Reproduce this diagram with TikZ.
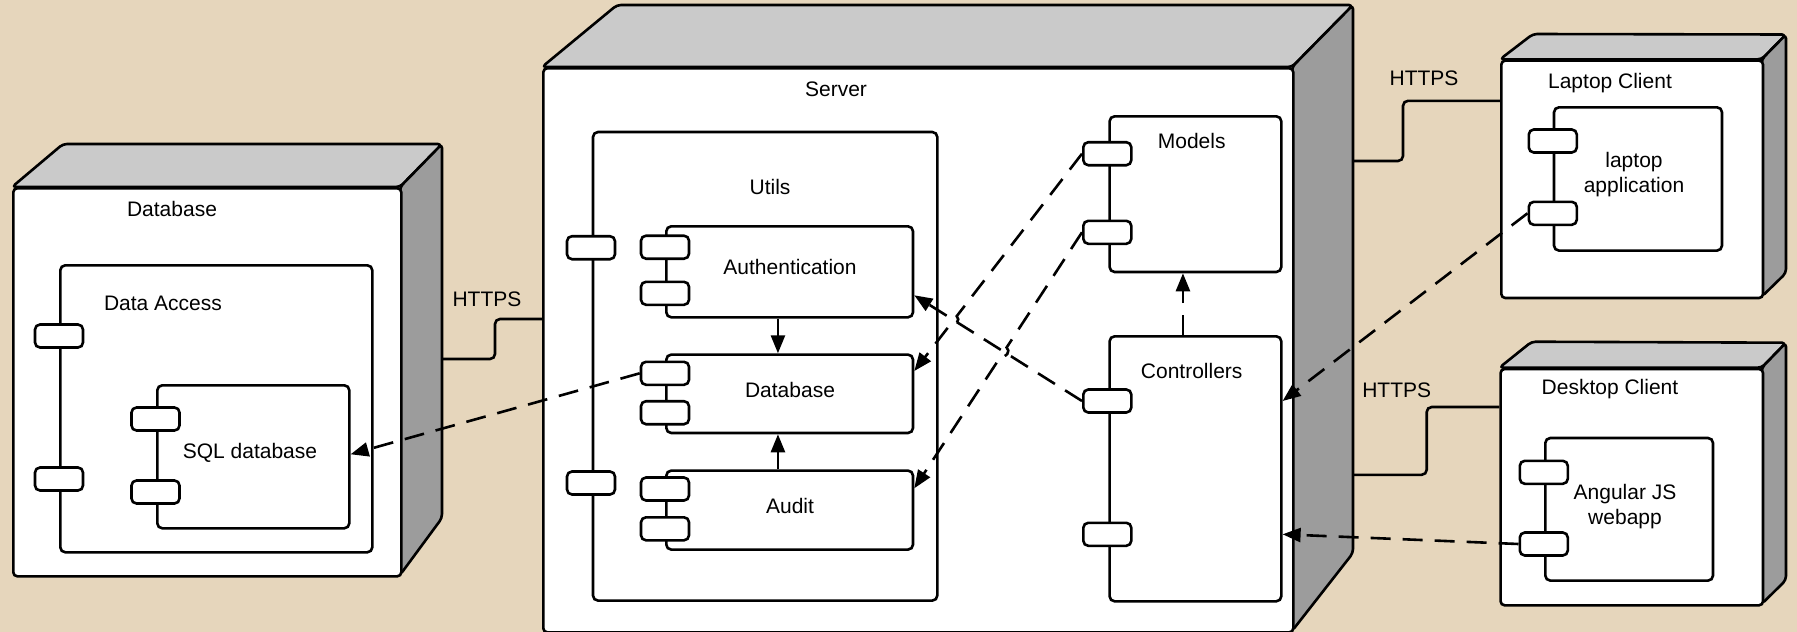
\documentclass[tikz,border=0pt]{standalone}
\usepackage{fontspec}
\setmainfont{Liberation Sans}
\usetikzlibrary{arrows.meta,calc}
\definecolor{bgbeige}{RGB}{230,214,188}
\definecolor{topgray}{RGB}{202,202,202}
\definecolor{sidegray}{RGB}{156,156,156}
\newcommand\lbfont{\fontsize{21}{25}\selectfont}
\tikzset{
  ln/.style={line width=2.6pt, draw=black},
  front/.style={ln, fill=white, rounded corners=4pt, rectangle, inner sep=0pt, anchor=north west},
  topface/.style={ln, fill=topgray, rounded corners=4pt, line join=round},
  sideface/.style={ln, fill=sidegray, rounded corners=4pt, line join=round},
  comp/.style={ln, fill=white, rounded corners=5pt, rectangle, inner sep=0pt, anchor=north west},
  port/.style={ln, fill=white, rounded corners=5pt, rectangle, inner sep=0pt, minimum width=48pt, minimum height=23pt},
  lbl/.style={font=\lbfont, inner sep=0pt, align=center},
  tip/.style={-{Triangle[length=18pt,width=14pt]}},
  dconn/.style={line width=2.6pt, dash pattern=on 20pt off 12pt, tip},
  sconn/.style={line width=2.6pt, tip},
  link/.style={line width=2.6pt, rounded corners=5pt},
}
\begin{document}
\begin{tikzpicture}[x=1pt,y=-1pt]
\useasboundingbox (0,0) rectangle (1797,632);
\fill[bgbeige] (0,0) rectangle (1797,632);

% ---------- Database node ----------
\path[topface] (12,187) -- (63,144) -- (442,144) -- (400,187) -- cycle;
\path[sideface] (400,187) -- (442,144) -- (442,518) -- (400,575) -- cycle;
\node[front, minimum width=388pt, minimum height=388pt] (dbn) at (12,187) {};
\node[lbl] (tdbn) at (172,209) {Database};
\node[comp, minimum width=312pt, minimum height=287pt] (dacc) at (59,264) {};
\node[lbl] (tdacc) at (163,303) {Data Access};
\node[port] (dap1) at (59,336) {};
\node[port] (dap2) at (59,479) {};
\node[comp, minimum width=192pt, minimum height=143pt] (sql) at (156,384) {};
\node[lbl] (tsql) at (250,453) {SQL database};
\node[port] (sqp1) at (155.5,419) {};
\node[port] (sqp2) at (155.5,492) {};

% ---------- Server node ----------
\path[topface] (542,67) -- (617,5) -- (1353,5) -- (1292,67) -- cycle;
\path[sideface] (1292,67) -- (1353,5) -- (1353,553) -- (1292,631) -- cycle;
\node[front, minimum width=750pt, minimum height=564pt] (srv) at (542,67) {};
\node[lbl] (tsrv) at (836,89.5) {Server};

\node[comp, minimum width=344.3pt, minimum height=468.6pt] (utils) at (591.7,130.7) {};
\node[lbl] (tutils) at (770,187.3) {Utils};
\node[port] (up1) at (591,247.7) {};
\node[port] (up2) at (591,483) {};

\node[comp, minimum width=246.7pt, minimum height=91pt] (auth) at (665,225) {};
\node[lbl] (tauth) at (790,267.3) {Authentication};
\node[port] (ap1) at (665,247.2) {};
\node[port] (ap2) at (665,293.3) {};

\node[comp, minimum width=246.7pt, minimum height=78.4pt] (dbi) at (665,353.3) {};
\node[lbl] (tdbi) at (790,390) {Database};
\node[port] (dbp1) at (665,373.3) {};
\node[port] (dbp2) at (665,412.7) {};

\node[comp, minimum width=246.7pt, minimum height=79pt] (audit) at (665,469.3) {};
\node[lbl] (taudit) at (790,505.5) {Audit};
\node[port] (aup1) at (665,489) {};
\node[port] (aup2) at (665,528.8) {};

\node[comp, minimum width=171.7pt, minimum height=155.7pt] (models) at (1108.3,115) {};
\node[lbl] (tmodels) at (1191.7,140.5) {Models};
\node[port] (mp1) at (1107.3,153.7) {};
\node[port] (mp2) at (1107.3,232.3) {};

\node[comp, minimum width=171.7pt, minimum height=265pt] (ctrl) at (1108.3,335) {};
\node[lbl] (tctrl) at (1191.7,370.5) {Controllers};
\node[port] (cp1) at (1107.3,401) {};
\node[port] (cp2) at (1107.3,534.3) {};

% ---------- Laptop client ----------
\path[topface] (1500,59.3) -- (1533,34) -- (1786,34.5) -- (1761.7,59.3) -- cycle;
\path[sideface] (1761.7,59.3) -- (1786,34.5) -- (1786,273) -- (1761.7,296.7) -- cycle;
\node[front, minimum width=261.7pt, minimum height=237.4pt] (lap) at (1500,59.3) {};
\node[lbl] (tlap) at (1610,82.7) {Laptop Client};
\node[comp, minimum width=168pt, minimum height=143.3pt] (lapp) at (1552.7,106) {};
\node[lbl] (tlapp) at (1634,175) {laptop\\application};
\node[port] (lp1) at (1552.8,141) {};
\node[port] (lp2) at (1552.8,213.3) {};

% ---------- Desktop client ----------
\path[topface] (1499.3,367.7) -- (1531.7,341.7) -- (1786,342.7) -- (1761.7,367.7) -- cycle;
\path[sideface] (1761.7,367.7) -- (1786,342.7) -- (1786,580) -- (1761.7,604) -- cycle;
\node[front, minimum width=262.4pt, minimum height=236.3pt] (dsk) at (1499.3,367.7) {};
\node[lbl] (tdsk) at (1610,389.3) {Desktop Client};
\node[comp, minimum width=167.7pt, minimum height=142.6pt] (ang) at (1544,436.7) {};
\node[lbl] (tang) at (1625,506.3) {Angular JS\\webapp};
\node[port] (wp1) at (1543.8,472.3) {};
\node[port] (wp2) at (1543.8,544) {};

% ---------- HTTPS links ----------
\coordinate (dbs) at (442,359);
\coordinate (srvs1) at (1353,161);
\coordinate (srvs2) at (1353,474.8);
\draw[link] (dbs) -- (495,359) -- (495,319) -- (srv.west |- 0,319);
\draw[link] (srvs1) -- (1403,161) -- (1403,100.8) -- (lap.west |- 0,100.8);
\draw[link] (srvs2) -- (1426.7,474.8) -- (1426.7,407) -- (dsk.west |- 0,407);
\node[lbl] (h1) at (487,299) {HTTPS};
\node[lbl] (h2) at (1424,78.6) {HTTPS};
\node[lbl] (h3) at (1396.7,390) {HTTPS};

% ---------- dependencies ----------
\draw[sconn] ([xshift=-11.7pt]auth.south) -- ([xshift=-11.7pt]dbi.north);
\draw[sconn] ([xshift=-11.7pt]audit.north) -- ([xshift=-11.7pt]dbi.south);
\draw[dconn] ([xshift=-12.5pt]ctrl.north) -- ([xshift=-12.5pt]models.south);
\draw[dconn] (dbp1.west) -- ([yshift=2.5pt]sql.east);

\coordinate (m1e) at ([yshift=-17.7pt]dbi.north east);
\coordinate (m2e) at ([yshift=-19pt]audit.north east);
\coordinate (c1e) at ([yshift=23.3pt]auth.south east);
\coordinate (X1) at (intersection of mp1.west--m1e and cp1.west--c1e);
\coordinate (X2) at (intersection of mp2.west--m2e and cp1.west--c1e);
\draw[dconn] (cp1.west) -- (c1e);
\draw[dconn] (mp1.west) -- ($(X1)!5pt!(mp1.west)$) to[bend left=90,looseness=1.4] ($(X1)!5pt!(m1e)$) -- (m1e);
\draw[dconn] (mp2.west) -- ($(X2)!5pt!(mp2.west)$) to[bend left=90,looseness=1.4] ($(X2)!5pt!(m2e)$) -- (m2e);

\draw[dconn] (lp2.west) -- (ctrl.east |- cp1);
\draw[dconn] (wp2.west) -- (ctrl.east |- cp2);
\end{tikzpicture}
\end{document}
